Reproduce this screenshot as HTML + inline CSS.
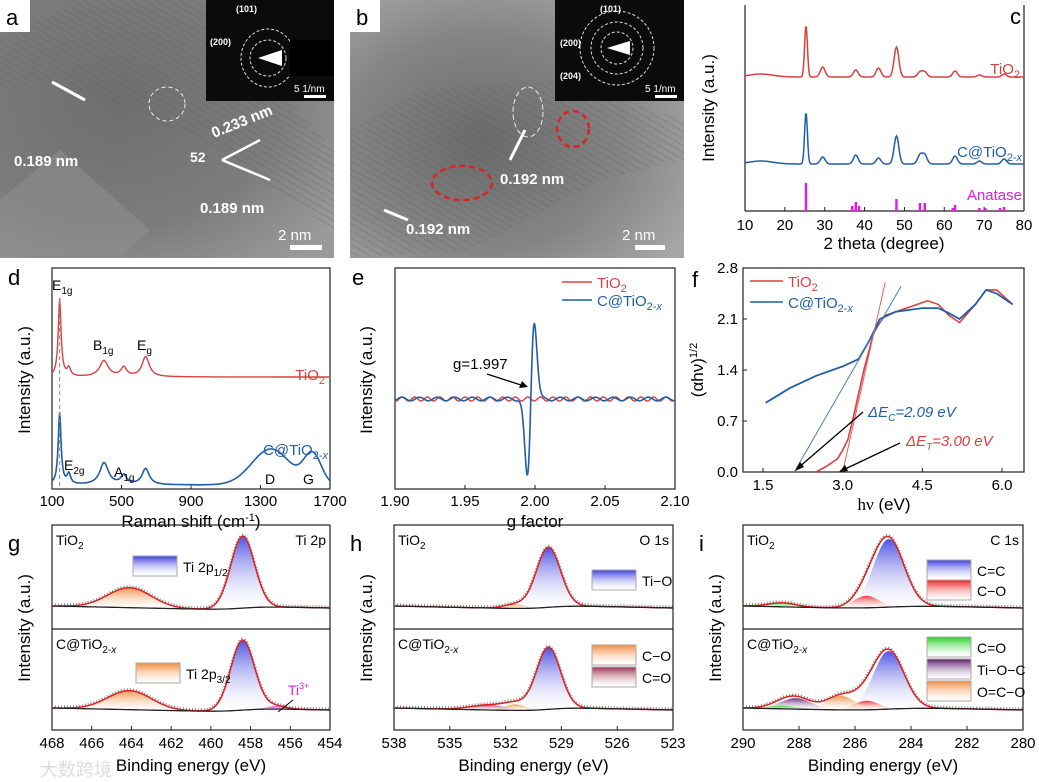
<!DOCTYPE html>
<html><head><meta charset="utf-8">
<style>
body{margin:0;background:#fff;}
svg{display:block;font-family:"Liberation Sans",Arial,sans-serif;}
</style></head>
<body>
<svg id="fig" width="1039" height="782" viewBox="0 0 1039 782" xmlns="http://www.w3.org/2000/svg">
<defs>
<linearGradient id="gBlue" x1="0" y1="0" x2="0" y2="1"><stop offset="0" stop-color="#3a3ee0"/><stop offset="1" stop-color="#fff" stop-opacity="0.2"/></linearGradient>
<linearGradient id="gOrange" x1="0" y1="0" x2="0" y2="1"><stop offset="0" stop-color="#f08a3a"/><stop offset="1" stop-color="#fff" stop-opacity="0.3"/></linearGradient>
<linearGradient id="gRed" x1="0" y1="0" x2="0" y2="1"><stop offset="0" stop-color="#ee2020"/><stop offset="1" stop-color="#fff" stop-opacity="0.3"/></linearGradient>
<linearGradient id="gGreen" x1="0" y1="0" x2="0" y2="1"><stop offset="0" stop-color="#22d022"/><stop offset="1" stop-color="#fff" stop-opacity="0.3"/></linearGradient>
<linearGradient id="gPurple" x1="0" y1="0" x2="0" y2="1"><stop offset="0" stop-color="#5a1a6a"/><stop offset="1" stop-color="#fff" stop-opacity="0.3"/></linearGradient>
<linearGradient id="gMaroon" x1="0" y1="0" x2="0" y2="1"><stop offset="0" stop-color="#a03050"/><stop offset="1" stop-color="#fff" stop-opacity="0.3"/></linearGradient>
<linearGradient id="gMagenta" x1="0" y1="0" x2="0" y2="1"><stop offset="0" stop-color="#e020e0"/><stop offset="1" stop-color="#fff" stop-opacity="0.3"/></linearGradient>
<radialGradient id="temA" cx="0.35" cy="0.4" r="0.8"><stop offset="0" stop-color="#6e6e6e"/><stop offset="0.6" stop-color="#7c7c7c"/><stop offset="1" stop-color="#9a9a9a"/></radialGradient>
<radialGradient id="temB" cx="0.4" cy="0.55" r="0.7"><stop offset="0" stop-color="#6a6a6a"/><stop offset="0.6" stop-color="#858585"/><stop offset="1" stop-color="#a5a5a5"/></radialGradient>
<pattern id="lattice" width="6" height="6" patternUnits="userSpaceOnUse" patternTransform="rotate(30)"><rect width="6" height="6" fill="none"/><line x1="0" y1="0" x2="6" y2="0" stroke="#555" stroke-width="1.5" opacity="0.5"/></pattern>
</defs>

<g>
<rect x="0" y="0" width="334" height="258" fill="url(#temA)"/>
<path d="M0,40 L80,0 L200,0 L334,150 L334,230 L200,140 L60,80 L0,90 Z" fill="url(#lattice)" opacity="0.7"/>
<path d="M0,200 L60,150 L150,230 L120,258 L0,258Z" fill="#8d8d8d" opacity="0.6"/>
<rect x="0" y="0" width="30" height="32" fill="#fff"/>
<text x="6" y="25" font-size="22">a</text>
<rect x="206" y="0" width="128" height="101" fill="#0b0b0b"/>
<circle cx="268" cy="58" r="18" fill="none" stroke="#ddd" stroke-dasharray="3,2"/>
<ellipse cx="268" cy="58" rx="27" ry="29" fill="none" stroke="#ddd" stroke-dasharray="3,2"/>
<polygon points="258,58 282,50 282,66" fill="#fff"/>
<rect x="290" y="40" width="44" height="36" fill="#000"/>
<text x="236" y="12" font-size="9" fill="#fff" font-weight="bold">(101)</text>
<text x="210" y="45" font-size="9" fill="#fff" font-weight="bold">(200)</text>
<text x="294" y="92" font-size="10" fill="#fff">5 1/nm</text>
<rect x="304" y="95" width="22" height="3" fill="#fff"/>
<text x="14" y="166" font-size="15" fill="#fff" font-weight="bold">0.189 nm</text>
<text x="214" y="138" font-size="15" fill="#fff" font-weight="bold" transform="rotate(-22 214 138)">0.233 nm</text>
<text x="190" y="162" font-size="14" fill="#fff" font-weight="bold">52</text>
<text x="200" y="213" font-size="15" fill="#fff" font-weight="bold">0.189 nm</text>
<path d="M222,160 L260,140 M222,160 L270,180" stroke="#fff" stroke-width="2.5" fill="none"/>
<line x1="52" y1="82" x2="85" y2="100" stroke="#fff" stroke-width="3"/>
<ellipse cx="167" cy="104" rx="18" ry="17" fill="none" stroke="#eee" stroke-dasharray="4,3"/>
<text x="278" y="240" font-size="15" fill="#fff">2 nm</text>
<rect x="290" y="245" width="32" height="5" fill="#fff"/>
</g>

<g>
<rect x="350" y="0" width="334" height="258" fill="url(#temB)"/>
<path d="M350,130 L420,90 L560,80 L684,120 L684,160 L600,180 L470,250 L350,258Z" fill="url(#lattice)" opacity="0.7"/>
<rect x="350" y="0" width="30" height="32" fill="#fff"/>
<text x="356" y="25" font-size="22">b</text>
<rect x="555" y="0" width="129" height="101" fill="#0b0b0b"/>
<circle cx="617" cy="48" r="16" fill="none" stroke="#ddd" stroke-dasharray="3,2"/>
<circle cx="617" cy="48" r="26" fill="none" stroke="#ddd" stroke-dasharray="3,2"/>
<circle cx="617" cy="48" r="37" fill="none" stroke="#ddd" stroke-dasharray="3,2"/>
<polygon points="607,48 630,41 630,55" fill="#fff"/>
<text x="600" y="12" font-size="9" fill="#fff" font-weight="bold">(101)</text>
<text x="560" y="46" font-size="9" fill="#fff" font-weight="bold">(200)</text>
<text x="560" y="79" font-size="9" fill="#fff" font-weight="bold">(204)</text>
<text x="645" y="92" font-size="10" fill="#fff">5 1/nm</text>
<rect x="655" y="95" width="22" height="3" fill="#fff"/>
<ellipse cx="462" cy="183" rx="30" ry="17" fill="none" stroke="#d22" stroke-width="2.5" stroke-dasharray="6,4"/>
<ellipse cx="573" cy="129" rx="16" ry="18" fill="none" stroke="#d22" stroke-width="2.5" stroke-dasharray="6,4"/>
<ellipse cx="528" cy="112" rx="15" ry="25" fill="none" stroke="#eee" stroke-dasharray="5,3"/>
<line x1="510" y1="160" x2="525" y2="130" stroke="#fff" stroke-width="3"/>
<line x1="384" y1="210" x2="408" y2="220" stroke="#fff" stroke-width="3"/>
<text x="500" y="184" font-size="15" fill="#fff" font-weight="bold">0.192 nm</text>
<text x="406" y="234" font-size="15" fill="#fff" font-weight="bold">0.192 nm</text>
<text x="622" y="240" font-size="15" fill="#fff">2 nm</text>
<rect x="635" y="245" width="30" height="5" fill="#fff"/>
</g>

<g id="charts"></g>
</svg>

<script>
// ---------- data ----------
const xrdPeakPos = [25.3, 29.5, 37.8, 43.5, 48.0, 53.9, 55.1, 62.7, 68.8, 75.0];
const xrdTiO2Heights = [52, 10, 7, 9, 30, 5, 5, 6, 2, 3];
const xrdCTiO2Heights = [52, 7, 9, 6, 28, 9, 9, 8, 3, 5];
const anataseSticks = [25.3, 36.9, 37.8, 38.6, 48.0, 53.9, 55.1, 62.1, 62.7, 68.8, 70.3, 74.0, 75.0];
const anataseHeights = [28, 5, 9, 5, 12, 8, 8, 3, 6, 3, 3, 3, 4];
const xrdTicks = [10, 20, 30, 40, 50, 60, 70, 80];
const ramanPos = [144, 197, 399, 513, 639];
const ramanTiO2H = [78, 8, 16, 9, 20];
const ramanCPos = [144, 197, 400, 513, 639, 1360, 1600];
const ramanCH = [72, 10, 22, 9, 16, 36, 30];
const ramanTicks = [100, 500, 900, 1300, 1700];
const eprTicks = [1.90, 1.95, 2.00, 2.05, 2.10];
const eprCenter = [1.997];
const eprAmp = [80];
const taucX = [1.55, 2.0, 2.5, 3.0, 3.3, 3.5, 3.7, 4.0, 4.5, 4.8, 5.0, 5.2, 5.5, 5.7, 5.9, 6.2];
const taucC = [0.95, 1.15, 1.32, 1.45, 1.55, 1.8, 2.1, 2.2, 2.25, 2.25, 2.18, 2.1, 2.3, 2.5, 2.45, 2.3];
const taucTX = [2.5, 2.7, 2.9, 3.0, 3.1, 3.2, 3.4, 3.6, 3.8, 4.2, 4.6, 4.8, 5.0, 5.2, 5.5, 5.7, 5.9, 6.2];
const taucT = [0.0, 0.08, 0.18, 0.3, 0.45, 0.75, 1.4, 1.95, 2.15, 2.25, 2.35, 2.3, 2.15, 2.05, 2.3, 2.5, 2.5, 2.3];
const taucXTicks = [1.5, 3.0, 4.5, 6.0];
const taucYTicks = [0.0, 0.7, 1.4, 2.1, 2.8];
const ti2pCenters = [458.4, 464.1];
const ti2pTopH = [72, 20];
const ti2pBotH = [70, 19];
const ti3Center = [456.7];
const ti3H = [3];
const ti2pTicks = [468, 466, 464, 462, 460, 458, 456, 454];
const o1sCenters = [529.7, 531.5, 532.9];
const o1sTopH = [60, 4, 0];
const o1sBotH = [62, 6, 5];
const o1sTicks = [538, 535, 532, 529, 526, 523];
const c1sCenters = [284.8, 285.6, 286.5, 288.1, 288.6];
const c1sTopH = [68, 12, 0, 0, 4];
const c1sBotH = [58, 9, 14, 11, 3];
const c1sTicks = [290, 288, 286, 284, 282, 280];

// ---------- helpers ----------
const NS = "http://www.w3.org/2000/svg";
const root = document.getElementById("charts");
function el(tag, attrs, parent) {
  const e = document.createElementNS(NS, tag);
  for (const k in attrs) e.setAttribute(k, attrs[k]);
  (parent || root).appendChild(e);
  return e;
}
function txt(x, y, s, size, attrs, parent) {
  const t = el("text", Object.assign({x: x, y: y, "font-size": size}, attrs || {}), parent);
  t.innerHTML = s;
  return t;
}
function lin(d0, d1, r0, r1) { return v => r0 + (v - d0) * (r1 - r0) / (d1 - d0); }
function g(x, c, w) { return Math.exp(-0.5 * ((x - c) / w) ** 2); }
function lor(x, c, w) { return 1 / (1 + ((x - c) / w) ** 2); }
function pathFrom(xs, fx, fy) { return xs.map((v, i) => (i ? "L" : "M") + fx(v).toFixed(1) + "," + fy(i).toFixed(1)).join(""); }
function range(a, b, n) { const r = []; for (let i = 0; i <= n; i++) r.push(a + (b - a) * i / n); return r; }
function box(name, x0, y0, x1, y1) {
  const r = el("rect", {x: x0, y: y0, width: x1 - x0, height: y1 - y0, fill: "none", stroke: "#222", "stroke-width": 1.2});
  
  
}
function xTicks(sx, ticks, yb, fmt, dy) {
  ticks.forEach(t => {
    const x = sx(t);
    el("line", {x1: x, y1: yb, x2: x, y2: yb - 4, stroke: "#222"});
    const tl = txt(x, yb + (dy || 18), fmt(t), 15, {"text-anchor": "middle"});
    
    
  });
}
function yTitle(x, y, s) {
  const t = txt(x, y, s, 17, {"text-anchor": "middle", transform: "rotate(-90 " + x + " " + y + ")"});
  
  
}
function xTitle(x, y, s) {
  const t = txt(x, y, s, 17, {"text-anchor": "middle"});
  
  
}
function letter(x, y, s) {
  const t = txt(x, y, s, 22, {});
  
  
}

// ---------- c: XRD ----------
(function () {
  const x0 = 745, x1 = 1024, y0 = 5, y1 = 211;
  const sx = lin(10, 80, x0, x1);
  el("line", {x1: x0, y1: y0, x2: x0, y2: y1, stroke: "#222", "stroke-width": 1.2});
  el("line", {x1: x0, y1: y1, x2: x1, y2: y1, stroke: "#222", "stroke-width": 1.2});
  el("line", {x1: x1, y1: y0, x2: x1, y2: y1, stroke: "#222", "stroke-width": 1.2});
  xTicks(sx, xrdTicks, y1, v => v, 19);
  xTitle(884, 249, "2 theta (degree)");
  yTitle(714, 108, "Intensity (a.u.)");
  letter(1010, 24, "c");
  const xs = range(10, 80, 350);
  function curve(H, base, col, name) {
    const ys = xs.map(x => base - xrdPeakPos.reduce((s, c, i) => s + H[i] * g(x, c, c < 27 ? 0.35 : 0.6), 0) - 3 * g(x, 14, 3));
    const p = el("path", {d: pathFrom(xs, sx, i => ys[i]), fill: "none", stroke: col, "stroke-width": 1.5});
    
    
  }
  curve(xrdTiO2Heights, 77, "#d9403e", "xrd-tio2-curve");
  curve(xrdCTiO2Heights, 164, "#1f5fa8", "xrd-c-tio2-curve");
  anataseSticks.forEach((c, i) => {
    const s = el("line", {x1: sx(c), y1: y1, x2: sx(c), y2: y1 - anataseHeights[i], stroke: "#e020e0", "stroke-width": 2.5});
    
    
  });
  txt(1020, 74, "TiO<tspan font-size='11' dy='4'>2</tspan>", 15, {fill: "#d9403e", "text-anchor": "end"});
  txt(1022, 157, "C@TiO<tspan font-size='11' dy='4'>2-<tspan font-style='italic'>x</tspan></tspan>", 15, {fill: "#1f5fa8", "text-anchor": "end"});
  txt(1022, 200, "Anatase", 15, {fill: "#e020e0", "text-anchor": "end"});
})();

// ---------- d: Raman ----------
(function () {
  const x0 = 52, x1 = 330, y0 = 268, y1 = 489;
  const sx = lin(100, 1700, x0, x1);
  box("raman-plot-area", x0, y0, x1, y1);
  xTicks(sx, ramanTicks, y1, v => v, 17);
  xTitle(191, 527, "Raman shift (cm<tspan font-size='11' dy='-6'>-1</tspan><tspan dy='6'>)</tspan>");
  yTitle(30, 380, "Intensity (a.u.)");
  letter(8, 285, "d");
  const xs = range(100, 1700, 400);
  const ws = [10, 12, 30, 20, 25, 110, 50];
  const y1a = xs.map(x => 377 - ramanPos.reduce((s, c, i) => s + ramanTiO2H[i] * lor(x, c, ws[i]), 0));
  const y2a = xs.map(x => 485 - ramanCPos.reduce((s, c, i) => s + ramanCH[i] * (i >= 5 ? g(x, c, ws[i]) : lor(x, c, ws[i])), 0));
  const p1 = el("path", {d: pathFrom(xs, sx, i => y1a[i]), fill: "none", stroke: "#d9403e", "stroke-width": 1.4});
  
  
  const p2 = el("path", {d: pathFrom(xs, sx, i => y2a[i]), fill: "none", stroke: "#1f5fa8", "stroke-width": 1.6});
  
  
  el("line", {x1: sx(144), y1: 300, x2: sx(144), y2: 487, stroke: "#888", "stroke-dasharray": "4,3"});
  txt(52, 290, "E<tspan font-size='10' dy='4'>1g</tspan>", 14, {});
  txt(93, 350, "B<tspan font-size='10' dy='4'>1g</tspan>", 14, {});
  txt(137, 350, "E<tspan font-size='10' dy='4'>g</tspan>", 14, {});
  txt(325, 380, "TiO<tspan font-size='11' dy='4'>2</tspan>", 15, {fill: "#d9403e", "text-anchor": "end"});
  txt(328, 455, "C@TiO<tspan font-size='11' dy='4'>2-<tspan font-style='italic'>x</tspan></tspan>", 15, {fill: "#1f5fa8", "text-anchor": "end"});
  txt(64, 470, "E<tspan font-size='10' dy='4'>2g</tspan>", 14, {});
  txt(114, 477, "A<tspan font-size='10' dy='4'>1g</tspan>", 14, {});
  txt(265, 484, "D", 14, {});
  txt(303, 484, "G", 14, {});
})();

// ---------- e: EPR ----------
(function () {
  const x0 = 395, x1 = 675, y0 = 268, y1 = 489;
  const sx = lin(1.90, 2.10, x0, x1);
  box("epr-plot-area", x0, y0, x1, y1);
  xTicks(sx, eprTicks, y1, v => v.toFixed(2), 17);
  xTitle(535, 527, "g factor");
  yTitle(372, 380, "Intensity (a.u.)");
  letter(352, 285, "e");
  const xs = range(1.90, 2.10, 400);
  const yr = xs.map(x => 399 - 2 * Math.sin(x * 700));
  const c = eprCenter[0], A = eprAmp[0];
  const yb = xs.map(x => 399 - A * ((x - c) / 0.0025) * Math.exp(-0.5 * ((x - c) / 0.0025) ** 2) * 1.6 + 3 * Math.sin(x * 500 + 1) * 0.6);
  const p1 = el("path", {d: pathFrom(xs, sx, i => yr[i]), fill: "none", stroke: "#d9403e", "stroke-width": 1.4});
  
  
  const p2 = el("path", {d: pathFrom(xs, sx, i => yb[i]), fill: "none", stroke: "#1f5fa8", "stroke-width": 1.6});
  
  
  txt(453, 369, "g=1.997", 15, {});
  el("line", {x1: 487, y1: 374, x2: 524, y2: 386, stroke: "#000", "stroke-width": 1.3});
  el("polygon", {points: "528,387 519,388 522,381", fill: "#000"});
  el("line", {x1: 562, y1: 282, x2: 592, y2: 282, stroke: "#d9403e", "stroke-width": 1.6});
  txt(597, 288, "TiO<tspan font-size='11' dy='4'>2</tspan>", 15, {fill: "#d9403e"});
  el("line", {x1: 562, y1: 300, x2: 592, y2: 300, stroke: "#1f5fa8", "stroke-width": 1.6});
  txt(597, 306, "C@TiO<tspan font-size='11' dy='4'>2-<tspan font-style='italic'>x</tspan></tspan>", 15, {fill: "#1f5fa8"});
})();

// ---------- f: Tauc ----------
(function () {
  const x0 = 743, x1 = 1024, y0 = 268, y1 = 472;
  const sx = lin(1.5, 6.0, 763, 1002);
  const sy = lin(0, 2.8, y1, y0);
  box("tauc-plot-area", x0, y0, x1, y1);
  xTicks(sx, taucXTicks, y1, v => v.toFixed(1));
  taucYTicks.forEach(t => {
    el("line", {x1: x0, y1: sy(t), x2: x0 + 4, y2: sy(t), stroke: "#222"});
    const l = txt(x0 - 5, sy(t) + 5, t.toFixed(1), 15, {"text-anchor": "end"});
    
    
  });
  xTitle(884, 510, "<tspan font-family='Liberation Serif'>hν</tspan> (eV)");
  yTitle(703, 370, "(αhν)<tspan font-size='11' dy='-6'>1/2</tspan>");
  letter(692, 287, "f");
  const pT = el("path", {d: pathFrom(taucTX, sx, i => sy(taucT[i])), fill: "none", stroke: "#d9403e", "stroke-width": 1.6});
  
  
  const pC = el("path", {d: pathFrom(taucX, sx, i => sy(taucC[i])), fill: "none", stroke: "#1f5fa8", "stroke-width": 1.8});
  
  
  el("line", {x1: sx(2.09), y1: sy(0), x2: sx(4.1), y2: sy(2.55), stroke: "#4a7fc0", "stroke-width": 1});
  el("line", {x1: sx(3.0), y1: sy(0), x2: sx(3.8), y2: sy(2.6), stroke: "#e06060", "stroke-width": 1});
  el("line", {x1: 863, y1: 412, x2: 798, y2: 468, stroke: "#000", "stroke-width": 1.3});
  el("polygon", {points: "795,471 800,462 804,467", fill: "#000"});
  el("line", {x1: 900, y1: 443, x2: 843, y2: 470, stroke: "#000", "stroke-width": 1.3});
  el("polygon", {points: "839,472 845,465 848,471", fill: "#000"});
  txt(868, 417, "ΔE<tspan font-size='10' dy='4'>C</tspan><tspan dy='-4'>=2.09 eV</tspan>", 15, {fill: "#1f5fa8", "font-style": "italic"});
  txt(906, 446, "ΔE<tspan font-size='10' dy='4'>T</tspan><tspan dy='-4'>=3.00 eV</tspan>", 15, {fill: "#d9403e", "font-style": "italic"});
  el("line", {x1: 750, y1: 281, x2: 783, y2: 281, stroke: "#d9403e", "stroke-width": 1.6});
  txt(788, 287, "TiO<tspan font-size='11' dy='4'>2</tspan>", 15, {fill: "#d9403e"});
  el("line", {x1: 750, y1: 302, x2: 783, y2: 302, stroke: "#1f5fa8", "stroke-width": 1.6});
  txt(788, 308, "C@TiO<tspan font-size='11' dy='4'>2-<tspan font-style='italic'>x</tspan></tspan>", 15, {fill: "#1f5fa8"});
})();

// ---------- XPS generic ----------
function xps(opt) {
  const {x0, x1, d0, d1, centers, widths, fills, topH, botH, ticks, letterS, core, name} = opt;
  const y0 = 525, y1 = 730, ym = 629;
  const sx = lin(d0, d1, x0, x1);
  box(name + "-plot-area", x0, y0, x1, y1);
  el("line", {x1: x0, y1: ym, x2: x1, y2: ym, stroke: "#222", "stroke-width": 1.2});
  xTicks(sx, ticks, y1, v => v);
  xTitle((x0 + x1) / 2, 771, "Binding energy  (eV)");
  yTitle(x0 - 22, 628, "Intensity (a.u.)");
  letter(x0 - 44, 551, letterS);
  txt(x0 + 4, 545, "TiO<tspan font-size='10' dy='4'>2</tspan>", 14, {});
  txt(x0 + 4, 649, "C@TiO<tspan font-size='10' dy='4'>2-<tspan font-style='italic'>x</tspan></tspan>", 14, {});
  txt(x1 - 4, 545, core, 14, {"text-anchor": "end"});
  const xs = range(d0, d1, 300);
  [[topH, 606], [botH, 708]].forEach(([H, base], k) => {
    const bg = xs.map(x => base + 6 * (x - d0) / (d1 - d0) - 4 * (1 / (1 + Math.exp((x - centers[0]) / 0.6))));
    centers.forEach((c, i) => {
      if (!H[i]) return;
      const ys = xs.map((x, j) => bg[j] - H[i] * g(x, c, widths[i]));
      const d = pathFrom(xs, sx, j => ys[j]) + pathFrom(xs.slice().reverse(), sx, j => bg[bg.length - 1 - j]).replace(/^M/, "L") + "Z";
      const comp = el("path", {d: d, fill: fills[i], stroke: "none", opacity: 0.9});
      
      
    });
    const env = xs.map((x, j) => bg[j] - centers.reduce((s, c, i) => s + H[i] * g(x, c, widths[i]), 0));
    const ptsD = el("path", {d: pathFrom(xs, sx, j => env[j] - 1), fill: "none", stroke: "#888", "stroke-width": 3, "stroke-dasharray": "1,2"});
    
    
    const fit = el("path", {d: pathFrom(xs, sx, j => env[j]), fill: "none", stroke: "#e02020", "stroke-width": 1.5});
    
    
    const bl = el("path", {d: pathFrom(xs, sx, j => bg[j]), fill: "none", stroke: "#222", "stroke-width": 1.3});
    
    
  });
}
function legendBox(x, y, fill, label, name) {
  const r = el("rect", {x: x, y: y, width: 44, height: 20, fill: fill, stroke: "#aaa"});
  
  
  txt(x + 50, y + 16, label, 14, {});
}

xps({x0: 52, x1: 330, d0: 468, d1: 454, centers: [ti2pCenters[0], ti2pCenters[1], ti3Center[0]], widths: [0.6, 1.1, 0.5],
  fills: ["url(#gBlue)", "url(#gOrange)", "url(#gMagenta)"], topH: [ti2pTopH[0], ti2pTopH[1], 0], botH: [ti2pBotH[0], ti2pBotH[1], ti3H[0]],
  ticks: ti2pTicks, letterS: "g", core: "Ti 2p", name: "xps-ti2p"});
legendBox(133, 556, "url(#gBlue)", "Ti 2p<tspan font-size='10' dy='4'>1/2</tspan>", "legend-ti2p12");
legendBox(136, 663, "url(#gOrange)", "Ti 2p<tspan font-size='10' dy='4'>3/2</tspan>", "legend-ti2p32");
txt(288, 695, "Ti<tspan font-size='9' dy='-6'>3+</tspan>", 14, {fill: "#e020e0"});
el("line", {x1: 293, y1: 700, x2: 278, y2: 712, stroke: "#000"});

xps({x0: 394, x1: 673, d0: 538, d1: 523, centers: o1sCenters, widths: [0.65, 0.6, 1.0],
  fills: ["url(#gBlue)", "url(#gOrange)", "url(#gMaroon)"], topH: o1sTopH, botH: o1sBotH,
  ticks: o1sTicks, letterS: "h", core: "O 1s", name: "xps-o1s"});
legendBox(592, 570, "url(#gBlue)", "Ti−O", "legend-ti-o");
legendBox(592, 645, "url(#gOrange)", "C−O", "legend-c-o");
legendBox(592, 667, "url(#gMaroon)", "C=O", "legend-c-o-double");

xps({x0: 743, x1: 1023, d0: 290, d1: 280, centers: c1sCenters, widths: [0.55, 0.45, 0.5, 0.55, 0.5],
  fills: ["url(#gBlue)", "url(#gRed)", "url(#gOrange)", "url(#gPurple)", "url(#gGreen)"], topH: c1sTopH, botH: c1sBotH,
  ticks: c1sTicks, letterS: "i", core: "C 1s", name: "xps-c1s"});
legendBox(927, 560, "url(#gBlue)", "C=C", "legend-c-c");
legendBox(927, 580, "url(#gRed)", "C−O", "legend-c1s-c-o");
legendBox(927, 637, "url(#gGreen)", "C=O", "legend-c1s-c-o-double");
legendBox(927, 659, "url(#gPurple)", "Ti−O−C", "legend-ti-o-c");
legendBox(927, 681, "url(#gOrange)", "O=C−O", "legend-o-c-o");

txt(40, 776, "大数跨境", 18, {fill: "#ddd", "font-family": "\"Liberation Sans\",\"Noto Sans CJK SC\",sans-serif"});
</script>
</body></html>
